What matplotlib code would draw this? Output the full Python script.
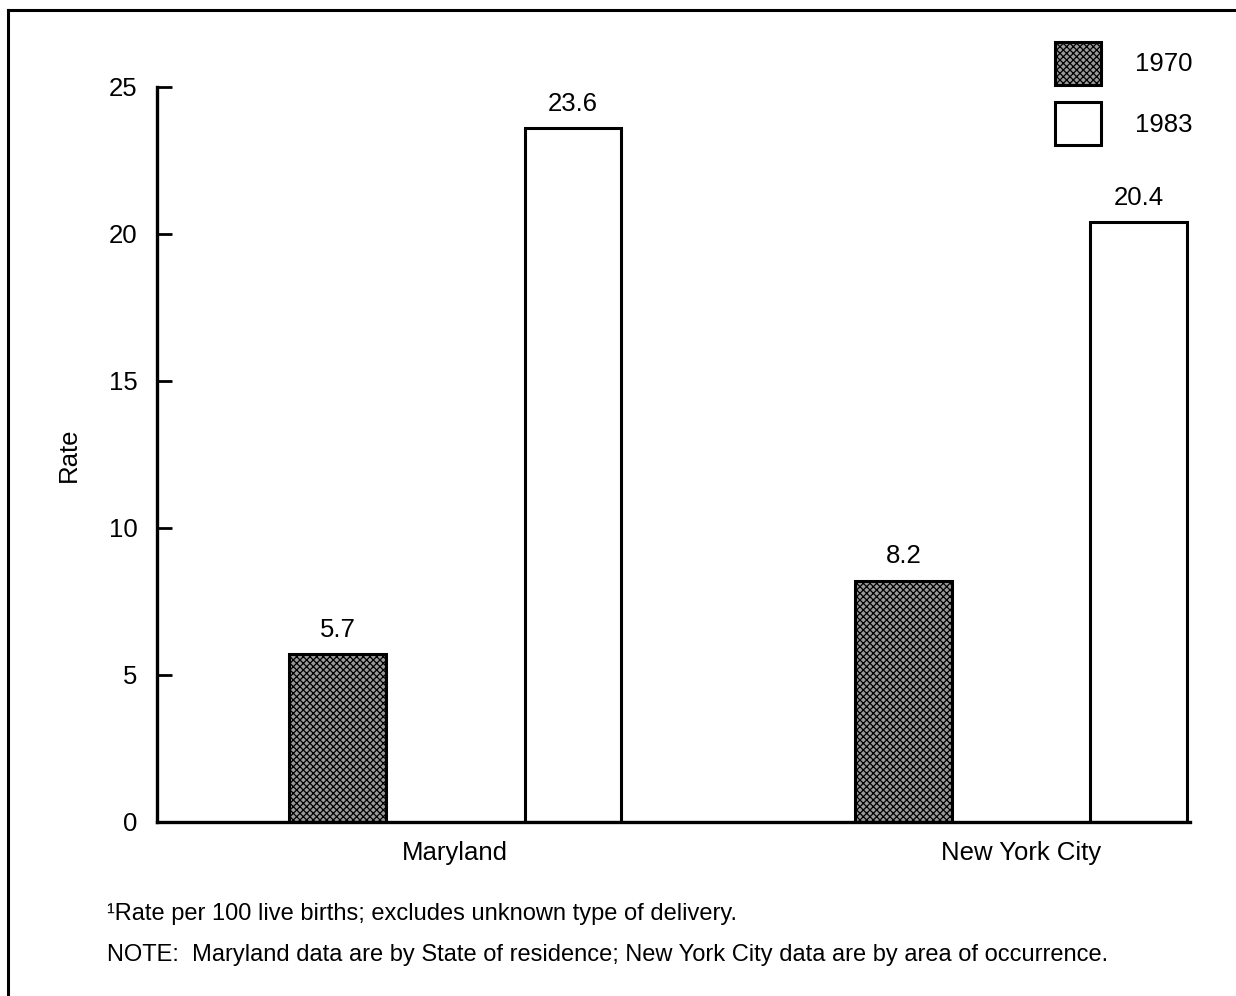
import numpy as np
import matplotlib
matplotlib.use("Agg")
import matplotlib.pyplot as plt
from matplotlib.patches import Patch
from matplotlib.lines import Line2D

plt.rcParams["font.family"] = ["Liberation Sans", "DejaVu Sans"]
plt.rcParams["hatch.linewidth"] = 0.9

categories = ["Maryland", "New York City"]
years = ["1970", "1983"]
rate_1970 = [5.7, 8.2]
rate_1983 = [23.6, 20.4]
yticks = [0, 5, 10, 15, 20, 25]

footnote = "\u00b9Rate per 100 live births; excludes unknown type of delivery."
note = "NOTE:  Maryland data are by State of residence; New York City data are by area of occurrence."

fig = plt.figure(figsize=(12.36, 9.96), dpi=100)
ax = fig.add_axes([0.127, 0.1747, 0.836, 0.738])

x = np.arange(len(categories))
offset = 0.208
width = 0.171
gray = "#9a9a9a"

b1 = ax.bar(x - offset, rate_1970, width, facecolor=gray, edgecolor="black",
            hatch="xxxxx", linewidth=2.2)
b2 = ax.bar(x + offset, rate_1983, width, facecolor="white", edgecolor="black",
            linewidth=2.2)
for bars in (b1, b2):
    ax.bar_label(bars, labels=[f"{v:.1f}" for v in bars.datavalues], padding=9, fontsize=18.5)

ax.set_xlim(-0.527, 1.299)
ax.set_ylim(0, 25)
ax.set_yticks(yticks)
ax.set_xticks(x)
ax.set_xticklabels(categories)
ax.tick_params(axis="y", direction="in", length=11, width=2, labelsize=18.5, pad=14)
ax.tick_params(axis="x", length=0, labelsize=18.5, pad=14)
ax.set_ylabel("Rate", fontsize=18.5, labelpad=20)

for s in ["top", "right"]:
    ax.spines[s].set_visible(False)
for s in ["left", "bottom"]:
    ax.spines[s].set_linewidth(2.4)

handles = [Patch(facecolor=gray, edgecolor="black", hatch="xxxxx", linewidth=2.2),
           Patch(facecolor="white", edgecolor="black", linewidth=2.2)]
fig.legend(handles, years, loc="upper left", bbox_to_anchor=(1042 / 1236, 1 - 29 / 996),
           frameon=False, fontsize=18.5, handlelength=1.78, handleheight=2.2,
           handletextpad=1.35, labelspacing=0.68, borderpad=0)

fig.text(107 / 1236, 1 - 914 / 996, footnote, fontsize=17, va="center")
fig.text(107 / 1236, 1 - 955 / 996, note, fontsize=17, va="center")

# page frame (top and left edges)
fig.add_artist(Line2D([8 / 1236, 1.0], [1 - 10 / 996, 1 - 10 / 996], color="black", lw=2.2))
fig.add_artist(Line2D([8 / 1236, 8 / 1236], [0, 1 - 10 / 996], color="black", lw=2.2))

fig.savefig("out.png", dpi=100)
